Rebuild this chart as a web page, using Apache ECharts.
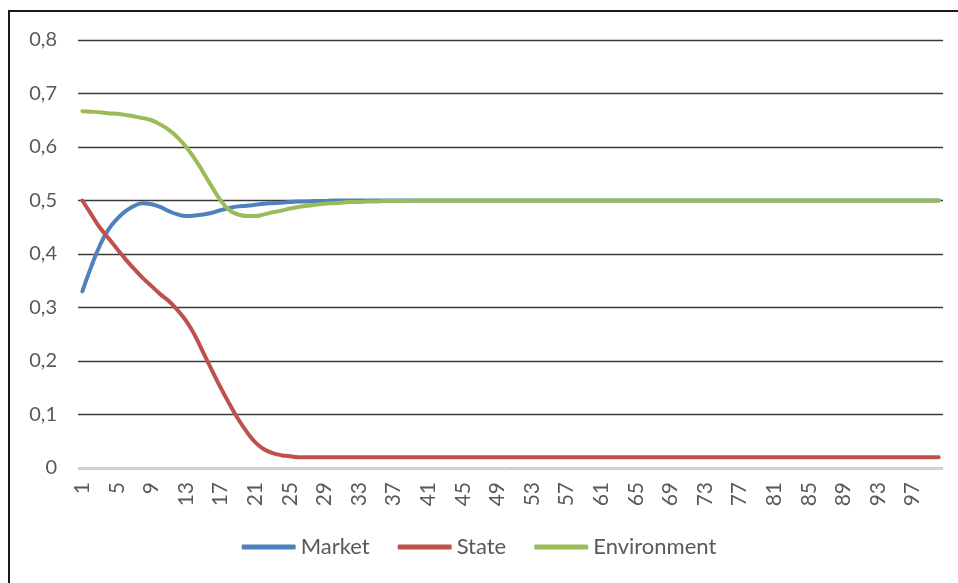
<!DOCTYPE html>
<html>
<head>
<meta charset="utf-8">
<script src="https://cdn.jsdelivr.net/npm/echarts@6/dist/echarts.min.js"></script>
<style>
  html, body { margin: 0; padding: 0; background: #fff; }
  #chart { width: 958px; height: 583px; }
</style>
</head>
<body>
<div id="chart"></div>
<script>
// Periods 1..100
var periods = [];
for (var p = 1; p <= 100; p++) periods.push(String(p));

// Shares per period (the tail settles and stays flat)
var marketHead = [0.33, 0.375, 0.415, 0.445, 0.465, 0.48, 0.49, 0.495, 0.493, 0.488,
                  0.48, 0.474, 0.471, 0.472, 0.474, 0.477, 0.482, 0.486, 0.489, 0.49,
                  0.492, 0.494, 0.495, 0.496, 0.497, 0.498, 0.498, 0.499, 0.499, 0.5];
var stateHead = [0.5, 0.475, 0.45, 0.43, 0.41, 0.39, 0.372, 0.355, 0.34, 0.325,
                 0.312, 0.295, 0.275, 0.248, 0.215, 0.182, 0.15, 0.12, 0.092, 0.068,
                 0.048, 0.035, 0.028, 0.024, 0.022, 0.02];
var environmentHead = [0.667, 0.666, 0.665, 0.663, 0.662, 0.66, 0.657, 0.654, 0.65, 0.642,
                       0.632, 0.618, 0.6, 0.578, 0.552, 0.525, 0.5, 0.482, 0.474, 0.471,
                       0.471, 0.474, 0.478, 0.481, 0.485, 0.488, 0.49, 0.492, 0.494, 0.495,
                       0.496, 0.497, 0.497, 0.498, 0.498, 0.499, 0.499, 0.499, 0.5];
var marketTail = 0.5, stateTail = 0.02, environmentTail = 0.5;

function extend(head, tail) {
  var out = head.slice();
  while (out.length < periods.length) out.push(tail);
  return out;
}
var market = extend(marketHead, marketTail);
var state = extend(stateHead, stateTail);
var environment = extend(environmentHead, environmentTail);

var yTicks = [0, 0.1, 0.2, 0.3, 0.4, 0.5, 0.6, 0.7, 0.8];

var chart = echarts.init(document.getElementById('chart'));
chart.setOption({
  animation: false,
  backgroundColor: '#ffffff',
  color: ['#4F81BD', '#C0504D', '#9BBB59'],
  graphic: [{
    type: 'rect',
    shape: { x: 9, y: 11, width: 1000, height: 700 },
    style: { fill: 'none', stroke: '#1a1a1a', lineWidth: 2 },
    silent: true
  }],
  grid: { left: 78, right: 15, top: 40, bottom: 115 },
  xAxis: {
    type: 'category',
    data: periods,
    boundaryGap: true,
    axisLine: { lineStyle: { color: '#d9d9d9', width: 1 } },
    axisTick: { show: false },
    axisLabel: {
      interval: 3, rotate: 90, margin: 14,
      fontSize: 21, color: '#595959', fontFamily: 'Lato'
    },
    splitLine: { show: false }
  },
  yAxis: {
    type: 'value',
    min: yTicks[0], max: yTicks[yTicks.length - 1], interval: 0.1,
    axisLine: { show: false },
    axisTick: { show: false },
    axisLabel: {
      margin: 21, fontSize: 20, color: '#595959', fontFamily: 'Lato',
      formatter: function (v) { return v === 0 ? '0' : v.toFixed(1).replace('.', ','); }
    },
    splitLine: { lineStyle: { color: '#3a3a3a', width: 1.3 } }
  },
  legend: {
    bottom: 20, left: 'center',
    icon: 'roundRect', itemWidth: 54, itemHeight: 5, itemGap: 28,
    textStyle: { color: '#595959', fontSize: 22, fontFamily: 'Lato' },
    data: ['Market', 'State', 'Environment']
  },
  series: [
    { name: 'Market', type: 'line', data: market, smooth: true, symbol: 'none',
      lineStyle: { width: 4, cap: 'round' } },
    { name: 'State', type: 'line', data: state, smooth: true, symbol: 'none',
      lineStyle: { width: 4, cap: 'round' } },
    { name: 'Environment', type: 'line', data: environment, smooth: true, symbol: 'none',
      lineStyle: { width: 4, cap: 'round' } }
  ]
});
</script>
</body>
</html>
